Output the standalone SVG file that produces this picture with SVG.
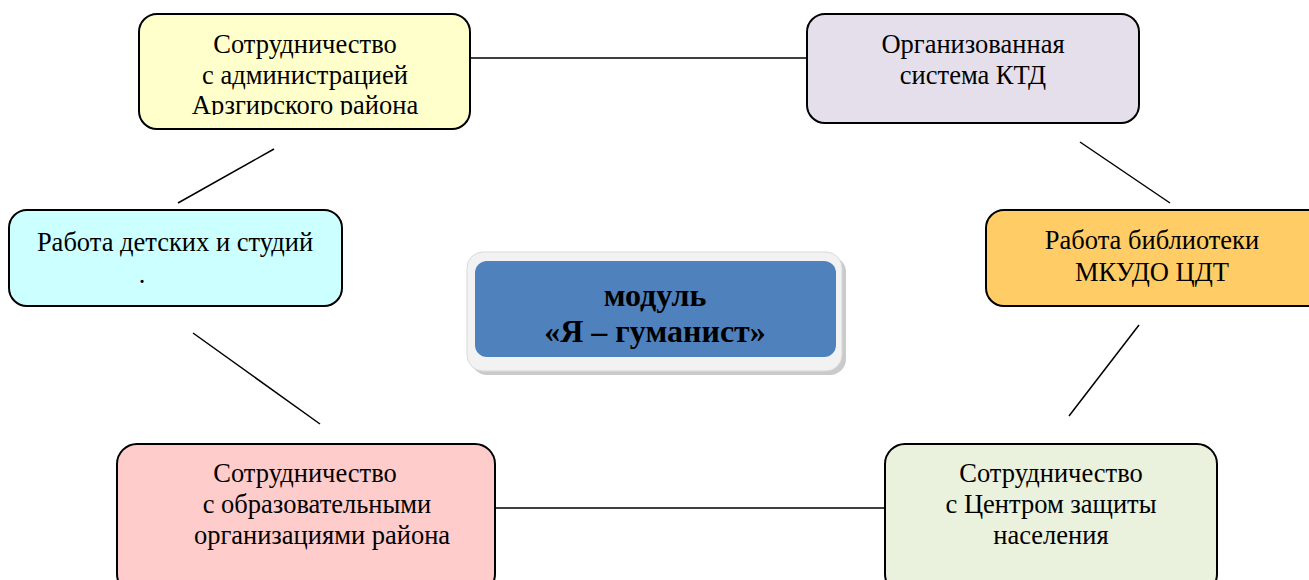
<svg xmlns="http://www.w3.org/2000/svg" width="1309" height="580" viewBox="0 0 1309 580">
<style>
.box{stroke:#000;stroke-width:2}
.t{font-family:"Liberation Serif","Times New Roman",serif;font-size:26.5px;fill:#000;text-anchor:middle}
.c{font-family:"Liberation Serif","Times New Roman",serif;font-size:32px;font-weight:bold;fill:#000;text-anchor:middle}
.ln{stroke:#000;stroke-width:1.5;fill:none}
</style>
<defs>
<clipPath id="clipTL"><rect x="139" y="14" width="332" height="101"/></clipPath>
</defs>
<rect width="1309" height="580" fill="#fff"/>
<g id="connectors">
<line class="ln" x1="470" y1="58" x2="807" y2="58"/>
<line class="ln" x1="274" y1="149" x2="178" y2="203"/>
<line class="ln" x1="193" y1="333" x2="320" y2="424"/>
<line class="ln" x1="495" y1="508" x2="885" y2="508"/>
<line class="ln" x1="1139" y1="325" x2="1069" y2="416"/>
<line class="ln" x1="1080" y1="142" x2="1170" y2="203"/>
</g>
<g id="admin">
<rect class="box" x="139" y="14" width="331" height="115" rx="18" fill="#FFFFCC"/>
<g clip-path="url(#clipTL)">
<text class="t" x="305" y="53">Сотрудничество</text>
<text class="t" x="305" y="84">с администрацией</text>
<text class="t" x="305" y="114">Арзгирского района</text>
</g>
</g>
<g id="ktd">
<rect class="box" x="807" y="14" width="332" height="109" rx="18" fill="#E5DFEC"/>
<text class="t" x="973" y="53">Организованная</text>
<text class="t" x="973" y="84">система КТД</text>
</g>
<g id="studios">
<rect class="box" x="9" y="210" width="333" height="96" rx="18" fill="#CCFFFF"/>
<text class="t" x="175" y="251">Работа детских и студий</text>
<text class="t" x="142" y="283">.</text>
</g>
<g id="library">
<rect class="box" x="986" y="210" width="340" height="96" rx="18" fill="#FFCC66"/>
<text class="t" x="1152" y="249">Работа библиотеки</text>
<text class="t" x="1152" y="281">МКУДО ЦДТ</text>
</g>
<g id="center">
<rect x="471" y="256" width="375" height="119" rx="16" fill="#A6A6A6" opacity="0.6"/>
<rect x="467" y="252" width="375" height="119" rx="16" fill="#F2F2F2" stroke="#D9D9D9" stroke-width="1"/>
<rect x="475" y="261" width="361" height="96" rx="12" fill="#4F81BD"/>
<text class="c" x="655" y="306">модуль</text>
<text class="c" x="655" y="342">«Я – гуманист»</text>
</g>
<g id="schools">
<rect class="box" x="117" y="444" width="378" height="150" rx="20" fill="#FFCCCC"/>
<text class="t" x="305" y="482">Сотрудничество</text>
<text class="t" x="317" y="513">с образовательными</text>
<text class="t" x="322" y="544">организациями района</text>
</g>
<g id="protection">
<rect class="box" x="885" y="444" width="332" height="150" rx="20" fill="#EAF1DD"/>
<text class="t" x="1051" y="482">Сотрудничество</text>
<text class="t" x="1051" y="513">с Центром защиты</text>
<text class="t" x="1051" y="544">населения</text>
</g>
</svg>
